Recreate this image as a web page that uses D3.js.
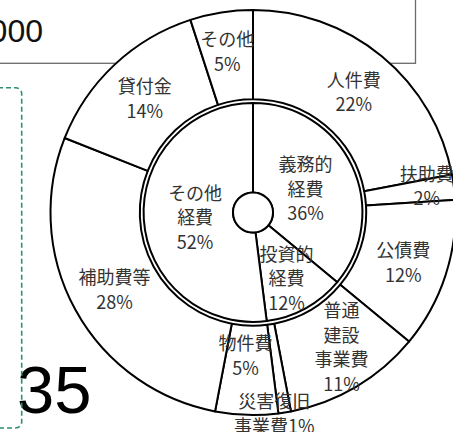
<!DOCTYPE html>
<html>
<head>
<meta charset="utf-8">
<script src="https://cdn.jsdelivr.net/npm/d3@7"></script>
<style>
  html, body { margin: 0; padding: 0; background: #fff; }
  svg { display: block; }
</style>
</head>
<body>
<div id="chart"></div>
<script>
// outer ring: breakdown by nature
var outerCats = ['人件費', '扶助費', '公債費', '普通建設事業費', '災害復旧事業費', '物件費', '補助費等', '貸付金', 'その他'];
var outerValues = [22, 2, 12, 11, 1, 5, 28, 14, 5];
var outerLines = [['人件費'], ['扶助費'], ['公債費'], ['普通', '建設', '事業費'], ['災害復旧', '事業費'], ['物件費'], ['補助費等'], ['貸付金'], ['その他']];

// inner ring: grouped
var innerCats = ['義務的経費', '投資的経費', 'その他経費'];
var innerValues = [36, 12, 52];
var innerLines = [['義務的', '経費'], ['投資的', '経費'], ['その他', '経費']];

// bits of the surrounding figure that show in the crop
var headText = '000';
var bigNumber = '35';

var width = 453, height = 432;
var cx = 253, cy = 212.5;
var rOut = 202.5, rOutIn = 113.2, rIn = 109.4, rHole = 20;
var lineH = 24.5;

var svg = d3.select('#chart').append('svg')
    .attr('width', width)
    .attr('height', height);

// grey text box, top left
svg.append('rect')
    .attr('x', -10).attr('y', -10)
    .attr('width', 425.5).attr('height', 73.3)
    .attr('fill', 'none')
    .attr('stroke', '#6b6b6b')
    .attr('stroke-width', 1.3);

svg.append('text')
    .attr('x', 43).attr('y', 41.5)
    .attr('text-anchor', 'end')
    .style('font-family', '"Liberation Sans", Arial, sans-serif')
    .style('font-size', '32px')
    .attr('fill', '#111')
    .text(headText);

svg.append('text')
    .attr('x', 17).attr('y', 413)
    .style('font-family', '"Liberation Sans", Arial, sans-serif')
    .style('font-size', '67px')
    .attr('fill', '#000')
    .text(bigNumber);

// green dashed box, left
var gb = d3.path();
gb.moveTo(-10, 87.7);
gb.lineTo(15.7, 87.7);
gb.arcTo(21.7, 87.7, 21.7, 93.7, 6);
gb.lineTo(21.7, 422);
gb.arcTo(21.7, 428, 15.7, 428, 6);
gb.lineTo(-10, 428);
svg.append('path')
    .attr('d', gb.toString())
    .attr('fill', 'none')
    .attr('stroke', '#2e8f74')
    .attr('stroke-width', 1.6)
    .attr('stroke-dasharray', '5,3');

var g = svg.append('g').attr('transform', 'translate(' + cx + ',' + cy + ')');

var pie = d3.pie().sort(null).value(function(d) { return d; });
var outerArcs = pie(outerValues);
var innerArcs = pie(innerValues);

var arcOuter = d3.arc().innerRadius(rOutIn).outerRadius(rOut);
var arcInner = d3.arc().innerRadius(rHole).outerRadius(rIn);

g.selectAll('.outer')
    .data(outerArcs)
    .enter().append('path')
    .attr('class', 'outer')
    .attr('d', arcOuter)
    .attr('fill', '#fff')
    .attr('stroke', '#000')
    .attr('stroke-width', 2)
    .attr('stroke-linejoin', 'round');

g.selectAll('.inner')
    .data(innerArcs)
    .enter().append('path')
    .attr('class', 'inner')
    .attr('d', arcInner)
    .attr('fill', '#fff')
    .attr('stroke', '#000')
    .attr('stroke-width', 2)
    .attr('stroke-linejoin', 'round');

g.append('circle')
    .attr('r', rHole)
    .attr('fill', '#fff')
    .attr('stroke', '#000')
    .attr('stroke-width', 2);

// label placement: mid angle of the slice, a radius, and a few hand moves (like excel)
var outerLabelR = 158, innerLabelR = 58;
var moves = {
    '扶助費': { r: 176, a: -1.8 },
    '普通建設事業費': { r: 160, a: -3 },
    '災害復旧事業費': { r: 201, a: 2.9 },
    '物件費': { r: 142, a: 1.2 },
    'その他': { r: 164, a: 0 },
    '投資的経費': { r: 73, a: 1.5 }
};

function labelPos(d, name, r0) {
    var m = moves[name] || { r: r0, a: 0 };
    var a = (d.startAngle + d.endAngle) / 2 + m.a * Math.PI / 180;
    return [m.r * Math.sin(a), -m.r * Math.cos(a)];
}

function drawLabel(pos, lines) {
    var t = g.append('text')
        .attr('text-anchor', 'middle')
        .style('font-family', '"Noto Sans CJK JP", "Noto Sans", sans-serif')
        .style('font-size', '18px')
        .attr('fill', '#333');
    lines.forEach(function(s, i) {
        t.append('tspan')
            .attr('x', pos[0])
            .attr('y', pos[1] + (i - (lines.length - 1) / 2) * lineH)
            .attr('dominant-baseline', 'central')
            .text(s);
    });
}

outerArcs.forEach(function(d, i) {
    var lines = outerLines[i].slice();
    var pct = outerValues[i] + '%';
    if (outerCats[i] === '災害復旧事業費') {
        lines[lines.length - 1] += pct;   // no room, goes on the same line
    } else {
        lines.push(pct);
    }
    drawLabel(labelPos(d, outerCats[i], outerLabelR), lines);
});

innerArcs.forEach(function(d, i) {
    var lines = innerLines[i].concat([innerValues[i] + '%']);
    drawLabel(labelPos(d, innerCats[i], innerLabelR), lines);
});
</script>
</body>
</html>
